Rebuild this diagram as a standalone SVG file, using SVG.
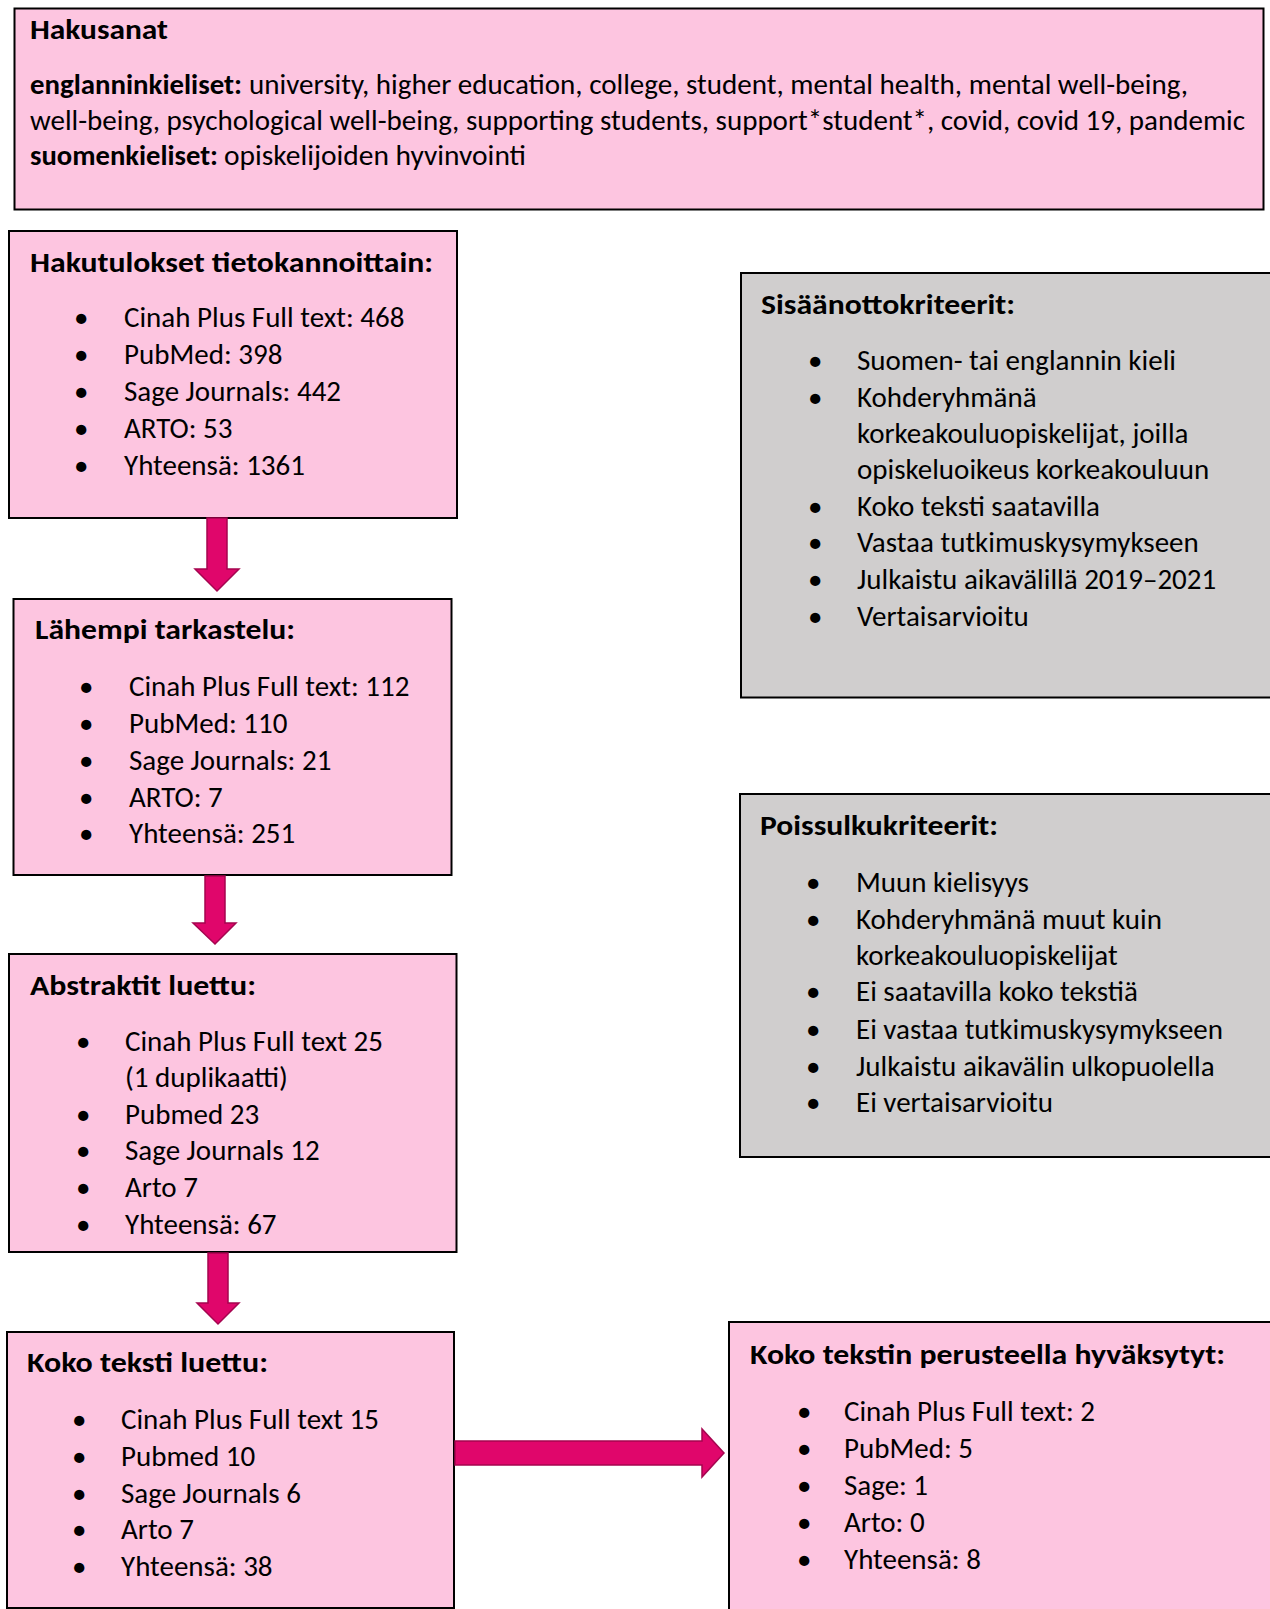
<svg xmlns="http://www.w3.org/2000/svg" width="1270" height="1609" viewBox="0 0 1270 1609">
<style>
.pink{fill:#FDC5E0;stroke:#000;stroke-width:2}
.gray{fill:#D0CECE;stroke:#000;stroke-width:2}
text{font-family:Carlito,Lato,"Liberation Sans",sans-serif;font-size:29px;fill:#000}
.b{font-weight:bold}
.arrow{fill:#E0066B;stroke:#A5054F;stroke-width:1.5}
</style>
<rect width="1270" height="1609" fill="#fff"/>
<g id="hakusanat">
<rect class="pink" x="14.5" y="8.5" width="1249" height="201"/>
<text class="b" x="30" y="39" textLength="138" lengthAdjust="spacingAndGlyphs">Hakusanat</text>
<text class="b" x="30" y="94" textLength="212" lengthAdjust="spacingAndGlyphs">englanninkieliset:</text>
<text x="249" y="94" textLength="939" lengthAdjust="spacingAndGlyphs">university, higher education, college, student, mental health, mental well-being,</text>
<text x="30" y="130" textLength="1215" lengthAdjust="spacingAndGlyphs">well-being, psychological well-being, supporting students, support*student*, covid, covid 19, pandemic</text>
<text class="b" x="30" y="165" textLength="188" lengthAdjust="spacingAndGlyphs">suomenkieliset:</text>
<text x="224" y="165" textLength="302" lengthAdjust="spacingAndGlyphs">opiskelijoiden hyvinvointi</text>
</g>
<g id="hakutulokset">
<rect class="pink" x="9" y="231" width="448" height="287"/>
<text class="b" x="30" y="272" textLength="403" lengthAdjust="spacingAndGlyphs">Hakutulokset tietokannoittain:</text>
<text x="74" y="327">•</text><text x="124" y="327">Cinah Plus Full text: 468</text>
<text x="74" y="364">•</text><text x="124" y="364">PubMed: 398</text>
<text x="74" y="401">•</text><text x="124" y="401">Sage Journals: 442</text>
<text x="74" y="438">•</text><text x="124" y="438">ARTO: 53</text>
<text x="74" y="475">•</text><text x="124" y="475">Yhteensä: 1361</text>
</g>
<g id="lahempi">
<rect class="pink" x="13.5" y="599" width="438" height="276"/>
<text class="b" x="35" y="639" textLength="260" lengthAdjust="spacingAndGlyphs">Lähempi tarkastelu:</text>
<text x="79" y="696">•</text><text x="129" y="696">Cinah Plus Full text: 112</text>
<text x="79" y="733">•</text><text x="129" y="733">PubMed: 110</text>
<text x="79" y="770">•</text><text x="129" y="770">Sage Journals: 21</text>
<text x="79" y="807">•</text><text x="129" y="807">ARTO: 7</text>
<text x="79" y="843">•</text><text x="129" y="843">Yhteensä: 251</text>
</g>
<g id="abstraktit">
<rect class="pink" x="9" y="954" width="447.5" height="298"/>
<text class="b" x="30" y="995" textLength="226" lengthAdjust="spacingAndGlyphs">Abstraktit luettu:</text>
<text x="76" y="1051">•</text><text x="125" y="1051">Cinah Plus Full text 25</text>
<text x="125" y="1087">(1 duplikaatti)</text>
<text x="76" y="1124">•</text><text x="125" y="1124">Pubmed 23</text>
<text x="76" y="1160">•</text><text x="125" y="1160">Sage Journals 12</text>
<text x="76" y="1197">•</text><text x="125" y="1197">Arto 7</text>
<text x="76" y="1234">•</text><text x="125" y="1234">Yhteensä: 67</text>
</g>
<g id="kokoteksti">
<rect class="pink" x="7" y="1332" width="447" height="276"/>
<text class="b" x="27" y="1372" textLength="241" lengthAdjust="spacingAndGlyphs">Koko teksti luettu:</text>
<text x="72" y="1429">•</text><text x="121" y="1429">Cinah Plus Full text 15</text>
<text x="72" y="1466">•</text><text x="121" y="1466">Pubmed 10</text>
<text x="72" y="1503">•</text><text x="121" y="1503">Sage Journals 6</text>
<text x="72" y="1539">•</text><text x="121" y="1539">Arto 7</text>
<text x="72" y="1576">•</text><text x="121" y="1576">Yhteensä: 38</text>
</g>
<g id="hyvaksytyt">
<rect class="pink" x="729" y="1322" width="560" height="300"/>
<text class="b" x="750" y="1364" textLength="475" lengthAdjust="spacingAndGlyphs">Koko tekstin perusteella hyväksytyt:</text>
<text x="797" y="1421">•</text><text x="844" y="1421">Cinah Plus Full text: 2</text>
<text x="797" y="1458">•</text><text x="844" y="1458">PubMed: 5</text>
<text x="797" y="1495">•</text><text x="844" y="1495">Sage: 1</text>
<text x="797" y="1532">•</text><text x="844" y="1532">Arto: 0</text>
<text x="797" y="1569">•</text><text x="844" y="1569">Yhteensä: 8</text>
</g>
<g id="sisaanotto">
<rect class="gray" x="741" y="273" width="560" height="424.5"/>
<text class="b" x="761" y="314" textLength="254" lengthAdjust="spacingAndGlyphs">Sisäänottokriteerit:</text>
<text x="808" y="370">•</text><text x="857" y="370">Suomen- tai englannin kieli</text>
<text x="808" y="407">•</text><text x="857" y="407">Kohderyhmänä</text>
<text x="857" y="443">korkeakouluopiskelijat, joilla</text>
<text x="857" y="479">opiskeluoikeus korkeakouluun</text>
<text x="808" y="516">•</text><text x="857" y="516">Koko teksti saatavilla</text>
<text x="808" y="552">•</text><text x="857" y="552">Vastaa tutkimuskysymykseen</text>
<text x="808" y="589">•</text><text x="857" y="589">Julkaistu aikavälillä 2019–2021</text>
<text x="808" y="626">•</text><text x="857" y="626">Vertaisarvioitu</text>
</g>
<g id="poissulku">
<rect class="gray" x="740" y="794" width="560" height="363"/>
<text class="b" x="760" y="835" textLength="238" lengthAdjust="spacingAndGlyphs">Poissulkukriteerit:</text>
<text x="806" y="892">•</text><text x="856" y="892">Muun kielisyys</text>
<text x="806" y="929">•</text><text x="856" y="929">Kohderyhmänä muut kuin</text>
<text x="856" y="965">korkeakouluopiskelijat</text>
<text x="806" y="1001">•</text><text x="856" y="1001">Ei saatavilla koko tekstiä</text>
<text x="806" y="1039">•</text><text x="856" y="1039">Ei vastaa tutkimuskysymykseen</text>
<text x="806" y="1076">•</text><text x="856" y="1076">Julkaistu aikavälin ulkopuolella</text>
<text x="806" y="1112">•</text><text x="856" y="1112">Ei vertaisarvioitu</text>
</g>
<g id="connectors">
<polygon class="arrow" points="207,518 227,518 227,569 239,569 217,591 195,569 207,569"/>
<polygon class="arrow" points="205,876 225,876 225,923 236,923 215,944 193,923 205,923"/>
<polygon class="arrow" points="208,1253 228,1253 228,1303 239,1303 218,1324 197,1303 208,1303"/>
<polygon class="arrow" points="455,1441 702,1441 702,1429 724,1453 702,1477 702,1465 455,1465"/>
</g>
</svg>
